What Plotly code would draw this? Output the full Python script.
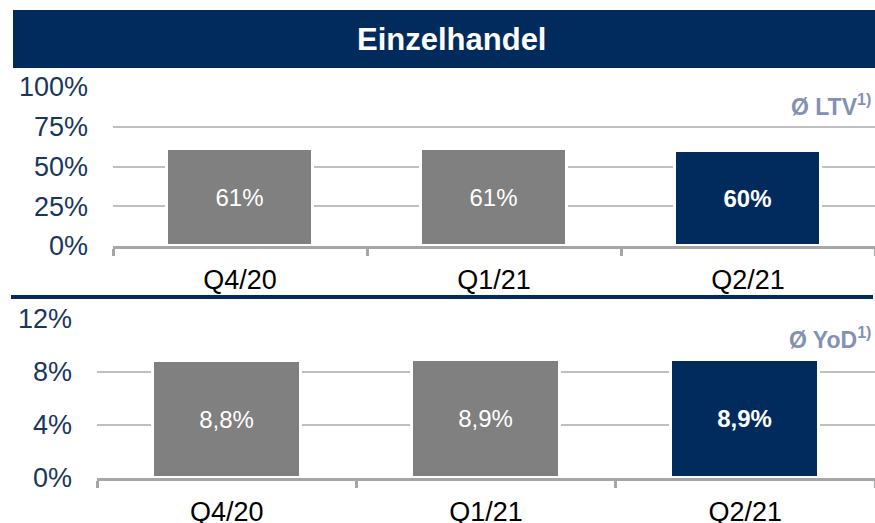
import plotly.graph_objects as go

categories = ["Q4/20", "Q1/21", "Q2/21"]
ltv_values = [0.61, 0.61, 0.60]
ltv_labels = ["61%", "61%", "<b>60%</b>"]
yod_values = [8.8, 8.9, 8.9]
yod_labels = ["8,8%", "8,9%", "<b>8,9%</b>"]
ltv_ticks = [0, 0.25, 0.5, 0.75, 1.0]
ltv_ticktext = ["0%", "25%", "50%", "75%", "100%"]
yod_ticks = [0, 4, 8, 12]
yod_ticktext = ["0%", "4%", "8%", "12%"]
bar_colors = ["#808080", "#808080", "#002B5C"]

W, H = 875, 523
NAVY = "#002B5C"
FONT = "Liberation Sans, Arial, sans-serif"

def py(p):
    return 1 - p / H

fig = go.Figure()
fig.add_trace(go.Bar(
    x=categories, y=ltv_values, text=ltv_labels, texttemplate="%{text}",
    textposition="inside", insidetextanchor="middle",
    textfont=dict(color="white", size=24, family=FONT),
    marker=dict(color=bar_colors, line=dict(color="white", width=3)),
    width=0.571, xaxis="x", yaxis="y", hoverinfo="skip",
))
fig.add_trace(go.Bar(
    x=categories, y=yod_values, text=yod_labels, texttemplate="%{text}",
    textposition="inside", insidetextanchor="middle",
    textfont=dict(color="white", size=24, family=FONT),
    marker=dict(color=bar_colors, line=dict(color="white", width=3)),
    width=0.571, xaxis="x2", yaxis="y2", hoverinfo="skip",
))

xcommon = dict(
    type="category", range=[-0.5, 2.5], showgrid=False, zeroline=False,
    showline=True, linecolor="#A6A6A6", linewidth=3, automargin=False,
    ticks="outside", tickson="boundaries", ticklen=7, tickwidth=3, tickcolor="#A6A6A6",
    tickfont=dict(size=27, color="black", family=FONT), fixedrange=True,
)
ycommon = dict(
    tickmode="array", showgrid=True, gridcolor="#C0C0C0", gridwidth=2, zeroline=False,
    tickfont=dict(size=27, color="#17375E", family=FONT), automargin=False,
    ticklabelstandoff=24, fixedrange=True,
)
fig.update_layout(
    template="none",
    width=W, height=H, margin=dict(l=0, r=0, t=0, b=0, pad=0),
    paper_bgcolor="white", plot_bgcolor="white", showlegend=False,
    font=dict(family=FONT),
    bargap=0,
    xaxis=dict(domain=[113 / W, 1.0], anchor="y", ticklabelstandoff=8, **xcommon),
    yaxis=dict(domain=[py(246), py(87)], range=[0, 1.0], anchor="x",
               tickvals=ltv_ticks, ticktext=ltv_ticktext, **ycommon),
    xaxis2=dict(domain=[97 / W, 1.0], anchor="y2", ticklabelstandoff=8, **xcommon),
    yaxis2=dict(domain=[py(478), py(319)], range=[0, 12], anchor="x2",
                tickvals=yod_ticks, ticktext=yod_ticktext, **ycommon),
    shapes=[
        dict(type="rect", xref="paper", yref="paper", x0=13 / W, x1=1.0,
             y0=py(68), y1=py(10), fillcolor=NAVY, line=dict(width=0), layer="below"),
        dict(type="line", xref="paper", yref="paper", x0=11 / W, x1=873 / W,
             y0=py(297), y1=py(297), line=dict(color=NAVY, width=4)),
    ],
    annotations=[
        dict(text="<b>Einzelhandel</b>", xref="paper", yref="paper",
             x=451 / W, y=py(39), xanchor="center", yanchor="middle", showarrow=False,
             font=dict(size=31, color="white", family=FONT)),
        dict(text="<b>Ø LTV<sup>1)</sup></b>", xref="paper", yref="paper",
             x=873 / W, y=py(105), xanchor="right", yanchor="middle", showarrow=False,
             font=dict(size=23, color="#8391B5", family=FONT)),
        dict(text="<b>Ø YoD<sup>1)</sup></b>", xref="paper", yref="paper",
             x=873 / W, y=py(338), xanchor="right", yanchor="middle", showarrow=False,
             font=dict(size=23, color="#8391B5", family=FONT)),
    ],
)

fig.write_html("out.html", config={"displayModeBar": False})

# remove default body margin so the figure sits at the window's top-left corner
with open("out.html", "r", encoding="utf-8") as f:
    html = f.read()
html = html.replace("<body>", '<body style="margin:0;padding:0;overflow:hidden">', 1)
with open("out.html", "w", encoding="utf-8") as f:
    f.write(html)
